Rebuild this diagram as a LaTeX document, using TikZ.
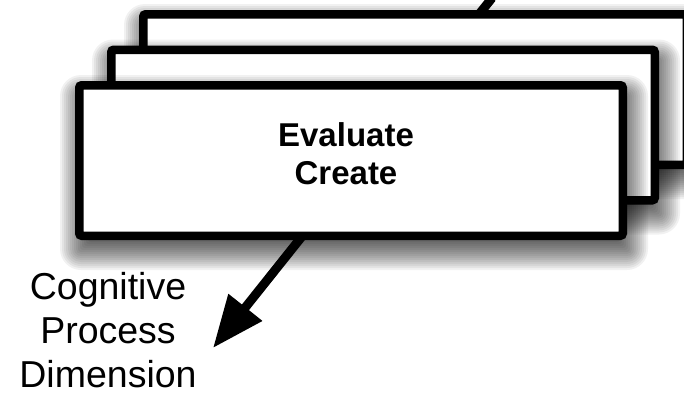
\documentclass[tikz,border=0pt]{standalone}
\usepackage{fontspec}
\setmainfont{Liberation Sans}
\usetikzlibrary{arrows.meta}
\newcommand\cardshadow[1]{%
  \foreach \r in {-12,-10,...,18}{%
    \fill[black, opacity=0.055, rounded corners={max(3,3+\r)*1pt}]
      ([shift={(-276+3-\r,-79.5+12-\r)}]#1) rectangle ([shift={(276+3+\r,79.5+12+\r)}]#1);
  }%
}
\begin{document}
\begin{tikzpicture}[x=1pt,y=-1pt,
  card/.style={draw=black, fill=white, line width=8.5pt, rounded corners=2.5pt,
    minimum width=543.5pt, minimum height=150.5pt, inner sep=0pt},
  axisline/.style={line width=9pt, -{Triangle[length=52pt,width=41pt]}},
  titletext/.style={font=\bfseries\fontsize{33}{38}\selectfont, align=center, inner sep=0pt},
  axislabel/.style={font=\fontsize{37.5}{44}\selectfont, align=center, inner sep=0pt}]
\useasboundingbox (0,0) rectangle (684,394);
\fill[white] (0,0) rectangle (684,394);
\coordinate (top) at (492,-2);
\coordinate (tip) at (213,348);
\coordinate (cb) at (415,89.5);
\coordinate (cm) at (383,125);
\coordinate (cf) at (351,160.5);
\draw[axisline] (top) -- (tip);
\cardshadow{cb}
\node[card] (back) at (cb) {};
\cardshadow{cm}
\node[card] (middle) at (cm) {};
\cardshadow{cf}
\node[card] (front) at (cf) {};
\node[titletext] (title) at (346,154) {Evaluate\\Create};
\node[axislabel] (dim) at (108,330) {Cognitive\\Process\\Dimension};
\end{tikzpicture}
\end{document}
